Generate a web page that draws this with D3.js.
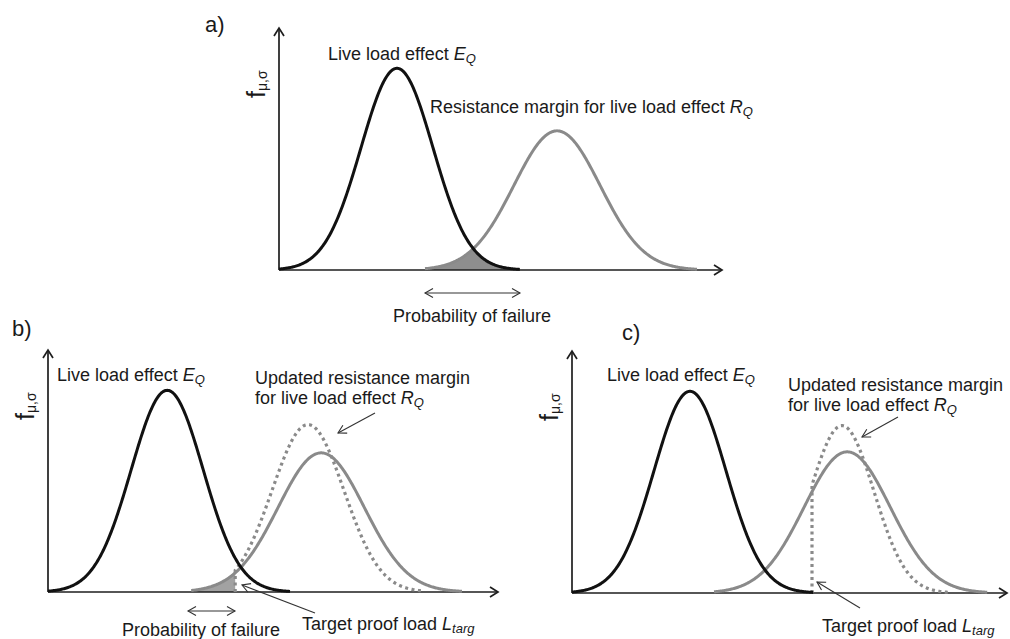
<!DOCTYPE html>
<html>
<head>
<meta charset="utf-8">
<script src="https://cdn.jsdelivr.net/npm/d3@7"></script>
<style>
  html, body { margin: 0; padding: 0; background: #fff; }
  svg { display: block; }
  text { font-family: "Liberation Sans", Arial, sans-serif; fill: #1a1a1a; }
</style>
</head>
<body>
<svg id="chart" width="1010" height="639"></svg>
<script>
// Panel identifiers
const panels = ["a)", "b)", "c)"];

// Live load effect E_Q: mean, standard deviation, peak density, drawn span
const eqMean = [2.95, 2.98, 2.95];
const eqSd = [0.9, 0.9, 0.9];
const eqPeak = [1.0, 1.0, 1.0];
const eqSpan = [[0, 6.02], [0, 6.05], [0, 6.03]];

// Resistance margin R_Q (prior)
const rqMean = [6.95, 6.83, 6.88];
const rqSd = [1.08, 1.08, 1.08];
const rqPeak = [0.69, 0.69, 0.70];
const rqSpan = [[3.65, 10.45], [3.58, 10.35], [3.55, 10.38]];

// Updated resistance margin after proof loading (truncated at L_targ)
const updMean = [null, 6.5, 6.75];
const updSd = [null, 0.9, 0.8];
const updPeak = [null, 0.83, 0.83];
const targetLoad = [null, 4.68, 6.0];
const updEnd = [null, 9.38, 9.45];

// Extent of the failure region shaded in each panel (null = none)
const failRegion = [[3.65, 6.02], [3.58, 4.68], null];

// Plot frames (pixels)
const frames = [
  { x0: 279, x1: 722, base: 270 },
  { x0: 48, x1: 498, base: 592 },
  { x0: 572, x1: 1007, base: 593 }
];
const pxPerUnit = 40;
const axisHeight = 242;
const yMax = 1.2;

const svg = d3.select("#chart");
const fontSize = 18;

function gauss(mu, sd, peak) {
  return v => peak * Math.exp(-((v - mu) * (v - mu)) / (2 * sd * sd));
}

function chevron(g, tip, dir, len, half, width, color) {
  // open arrow head pointing along dir (unit vector)
  const [tx, ty] = tip;
  const [dx, dy] = dir;
  const nx = -dy, ny = dx;
  const bx = tx - dx * len, by = ty - dy * len;
  g.append("path")
    .attr("d", `M${bx + nx * half},${by + ny * half}L${tx},${ty}L${bx - nx * half},${by - ny * half}`)
    .attr("fill", "none")
    .attr("stroke", color)
    .attr("stroke-width", width)
    .attr("stroke-linejoin", "miter");
}

function arrowLine(g, from, to, opts = {}) {
  const w = opts.width || 1.1, c = opts.color || "#333";
  g.append("line")
    .attr("x1", from[0]).attr("y1", from[1])
    .attr("x2", to[0]).attr("y2", to[1])
    .attr("stroke", c).attr("stroke-width", w);
  const L = Math.hypot(to[0] - from[0], to[1] - from[1]);
  const d = [(to[0] - from[0]) / L, (to[1] - from[1]) / L];
  chevron(g, to, d, opts.len || 8, opts.half || 4.5, w, c);
  if (opts.both) chevron(g, from, [-d[0], -d[1]], opts.len || 8, opts.half || 4.5, w, c);
}

// Text with an italic symbol and italic subscript
function symText(g, x, y, plain, sym, sub, anchor) {
  const t = g.append("text")
    .attr("x", x).attr("y", y)
    .attr("font-size", fontSize)
    .attr("text-anchor", anchor || "start");
  t.append("tspan").text(plain);
  if (sym) {
    t.append("tspan").attr("font-style", "italic").text(sym);
    t.append("tspan").attr("font-style", "italic")
      .attr("font-size", 13).attr("dy", 3).text(sub);
  }
  return t;
}

frames.forEach((f, i) => {
  const g = svg.append("g");
  const x = d3.scaleLinear().domain([0, (f.x1 - f.x0) / pxPerUnit]).range([f.x0, f.x1]);
  const y = d3.scaleLinear().domain([0, yMax]).range([f.base, f.base - axisHeight]);

  const eq = gauss(eqMean[i], eqSd[i], eqPeak[i]);
  const rq = gauss(rqMean[i], rqSd[i], rqPeak[i]);
  const step = 0.02;
  const samples = (lo, hi) => {
    const s = d3.range(lo, hi, step);
    s.push(hi);
    return s;
  };
  const line = fn => d3.line().x(v => x(v)).y(v => y(fn(v)));

  // failure probability region
  if (failRegion[i]) {
    const [lo, hi] = failRegion[i];
    const area = d3.area()
      .x(v => x(v))
      .y0(y(0))
      .y1(v => y(Math.min(eq(v), rq(v))));
    g.append("path")
      .attr("d", area(samples(lo, hi)))
      .attr("fill", i === 0 ? "#8e8e8e" : "#a2a2a2");
  }

  // axes
  const axisColor = "#1e1e1e";
  g.append("line")
    .attr("x1", x(0)).attr("y1", y(0))
    .attr("x2", x.range()[1]).attr("y2", y(0))
    .attr("stroke", axisColor).attr("stroke-width", 1.7);
  chevron(g, [x.range()[1], y(0)], [1, 0], 8, 5, 1.7, axisColor);
  g.append("line")
    .attr("x1", x(0)).attr("y1", y(0))
    .attr("x2", x(0)).attr("y2", y(yMax))
    .attr("stroke", axisColor).attr("stroke-width", 1.7);
  chevron(g, [x(0), y(yMax)], [0, -1], 8, 5, 1.7, axisColor);

  // resistance margin (prior)
  g.append("path")
    .attr("d", line(rq)(samples(rqSpan[i][0], rqSpan[i][1])))
    .attr("fill", "none").attr("stroke", "#8a8a8a").attr("stroke-width", 3);

  // updated resistance margin, truncated at target proof load
  if (updMean[i] !== null) {
    const up = gauss(updMean[i], updSd[i], updPeak[i]);
    const pts = samples(targetLoad[i], updEnd[i]).map(v => [x(v), y(up(v))]);
    pts.unshift([x(targetLoad[i]), y(0)]);
    g.append("path")
      .attr("d", d3.line()(pts))
      .attr("fill", "none").attr("stroke", "#8a8a8a").attr("stroke-width", 3.2)
      .attr("stroke-dasharray", "3,3.5");
  }

  // live load effect
  g.append("path")
    .attr("d", line(eq)(samples(eqSpan[i][0], eqSpan[i][1])))
    .attr("fill", "none").attr("stroke", "#111").attr("stroke-width", 3);

  // y-axis label f_{μ,σ}
  const yl = g.append("text")
    .attr("transform", `translate(${f.x0 - 14},${f.base - 172}) rotate(-90)`)
    .attr("font-size", 25);
  yl.append("tspan").text("f");
  yl.append("tspan").attr("font-size", 14).attr("dy", 1.5).text("μ,σ");
});

// Panel letters
const letterPos = [[205, 32], [12, 336], [622, 340]];
panels.forEach((p, i) => {
  svg.append("text").attr("x", letterPos[i][0]).attr("y", letterPos[i][1])
    .attr("font-size", 22).text(p);
});

const ann = svg.append("g");

// Panel a annotations
symText(ann, 328, 60, "Live load effect ", "E", "Q");
symText(ann, 430, 113, "Resistance margin for live load effect ", "R", "Q");
arrowLine(ann, [425, 293], [520, 293], { both: true });
symText(ann, 472, 322, "Probability of failure", null, null, "middle");

// Panel b annotations
symText(ann, 57, 381, "Live load effect ", "E", "Q");
symText(ann, 255, 384, "Updated resistance margin");
symText(ann, 255, 404, "for live load effect ", "R", "Q");
arrowLine(ann, [375, 413], [338, 433]);
arrowLine(ann, [188, 611], [235, 611], { both: true });
symText(ann, 122, 636, "Probability of failure");
symText(ann, 302, 630, "Target proof load  ", "L", "targ");
arrowLine(ann, [315, 613], [242, 585]);

// Panel c annotations
symText(ann, 607, 381, "Live load effect ", "E", "Q");
symText(ann, 788, 391, "Updated resistance margin");
symText(ann, 788, 411, "for live load effect ", "R", "Q");
arrowLine(ann, [898, 417], [862, 437]);
symText(ann, 822, 632, "Target proof load  ", "L", "targ");
arrowLine(ann, [860, 608], [817, 582]);
</script>
</body>
</html>
